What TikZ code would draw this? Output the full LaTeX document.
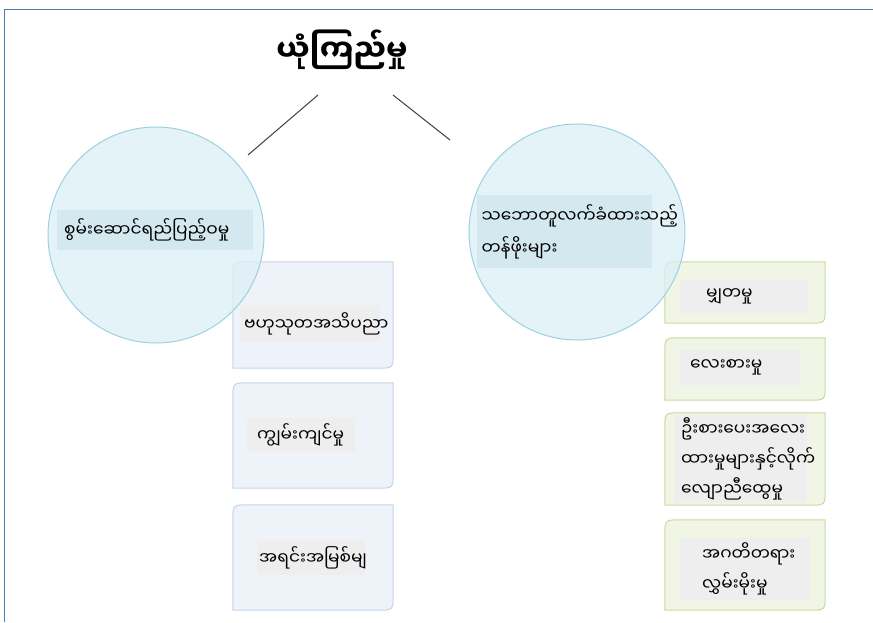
\documentclass[tikz,border=0pt]{standalone}
\usepackage{fontspec}
\newfontfamily\mya[Script=Myanmar]{Noto Sans Myanmar UI}
\definecolor{framecol}{HTML}{4A7EBB}
\definecolor{circfill}{HTML}{DCEFF5}
\definecolor{circdraw}{HTML}{9CD2E0}
\definecolor{circlab}{HTML}{D3E8EF}
\definecolor{lboxfill}{HTML}{EEF3F9}
\definecolor{lboxdraw}{HTML}{C5D5E9}
\definecolor{rboxfill}{HTML}{F1F5E6}
\definecolor{rboxdraw}{HTML}{C8DA9E}
\definecolor{labfill}{HTML}{EEEEEE}
\definecolor{linecol}{HTML}{404040}
\tikzset{
  boxshape/.style={rectangle, draw=none, minimum width=160pt, inner sep=0pt},
  lbox/.style={fill=lboxfill, draw=lboxdraw, line width=1pt},
  rbox/.style={fill=rboxfill, draw=rboxdraw, line width=1pt},
  circ/.style={circle, minimum size=216pt, inner sep=0pt, fill=circfill, fill opacity=0.75, draw=circdraw, line width=1pt},
  lab/.style={fill=labfill, inner sep=0pt, font=\mya\fontsize{17}{30}\selectfont, align=left, anchor=north west},
  clab/.style={fill=circlab, inner sep=0pt, font=\mya\fontsize{17}{32}\selectfont, align=left, anchor=north west},
  conn/.style={draw=linecol, line width=1pt}
}
\newcommand\snipshape[2]{%
  \draw[#2] (#1.south west) -- ([yshift=-16pt]#1.north west) .. controls (#1.north west) .. ([xshift=16pt]#1.north west)
    -- (#1.north east) -- ([yshift=16pt]#1.south east) .. controls (#1.south east) .. ([xshift=-16pt]#1.south east) -- cycle;}
\begin{document}
\begin{tikzpicture}[x=1pt,y=-1pt]
\useasboundingbox (0,0) rectangle (873,622);
\fill[white] (0,0) rectangle (873,622);
\draw[framecol, line width=0.8pt] (4,622) -- (4,9) -- (873,9);

% title
\node[font=\mya\fontsize{30}{34}\selectfont\bfseries] (title) at (342,50) {ယုံကြည်မှု};
\coordinate (t1) at (318,95);
\coordinate (c1) at (248,155);
\coordinate (t2) at (393,95);
\coordinate (c2) at (450,140);
\draw[conn] (t1) -- (c1);
\draw[conn] (t2) -- (c2);

% left boxes
\node[boxshape, minimum height=106pt] (lb1) at (313,315) {};
\node[boxshape, minimum height=105pt] (lb2) at (313,435.5) {};
\node[boxshape, minimum height=105pt] (lb3) at (313,557.5) {};
\snipshape{lb1}{lbox}
\snipshape{lb2}{lbox}
\snipshape{lb3}{lbox}

% right boxes
\node[boxshape, minimum height=61pt] (rb1) at (745,292.5) {};
\node[boxshape, minimum height=62pt] (rb2) at (745,369) {};
\node[boxshape, minimum height=92pt] (rb3) at (745,459) {};
\node[boxshape, minimum height=90pt] (rb4) at (745,565) {};
\snipshape{rb1}{rbox}
\snipshape{rb2}{rbox}
\snipshape{rb3}{rbox}
\snipshape{rb4}{rbox}

% circles
\node[circ] (lc) at (156,235) {};
\node[circ] (rc) at (577,232) {};

% circle labels
\node[clab, minimum width=196pt, minimum height=40pt, text width=190pt] (lcl) at (57,210) {\hspace*{4pt}စွမ်းဆောင်ရည်ပြည့်ဝမှု};
\node[clab, minimum width=175pt, minimum height=73pt, text width=172pt] (rcl) at (477,195) {\hspace*{3pt}သဘောတူလက်ခံထားသည့်\\\hspace*{3pt}တန်ဖိုးများ};

% box labels
\node[lab, minimum width=140pt, minimum height=37pt, text width=136pt] (l1) at (240,305) {\hspace*{2pt}ဗဟုသုတအသိပညာ};
\node[lab, minimum width=108pt, minimum height=34pt, text width=104pt] (l2) at (247,418) {\hspace*{8pt}ကျွမ်းကျင်မှု};
\node[lab, minimum width=108pt, minimum height=35pt, text width=104pt] (l3) at (257,540) {အရင်းအမြစ်မျ};

\node[lab, minimum width=128pt, minimum height=33pt, text width=124pt] (r1) at (680,280) {\hspace*{24pt}မျှတမှု};
\node[lab, minimum width=120pt, minimum height=35pt, text width=116pt] (r2) at (680,350) {\hspace*{8pt}လေးစားမှု};
\node[lab, minimum width=132pt, minimum height=88pt, text width=128pt] (r3) at (675,415) {\hspace*{4pt}ဦးစားပေးအလေး\\\hspace*{4pt}ထားမှုများနှင့်လိုက်\\\hspace*{4pt}လျောညီထွေမှု};
\node[lab, minimum width=130pt, minimum height=62pt, text width=126pt] (r4) at (680,538) {\hspace*{20pt}အဂတိတရား\\\hspace*{20pt}လွှမ်းမိုးမှု};
\end{tikzpicture}
\end{document}
